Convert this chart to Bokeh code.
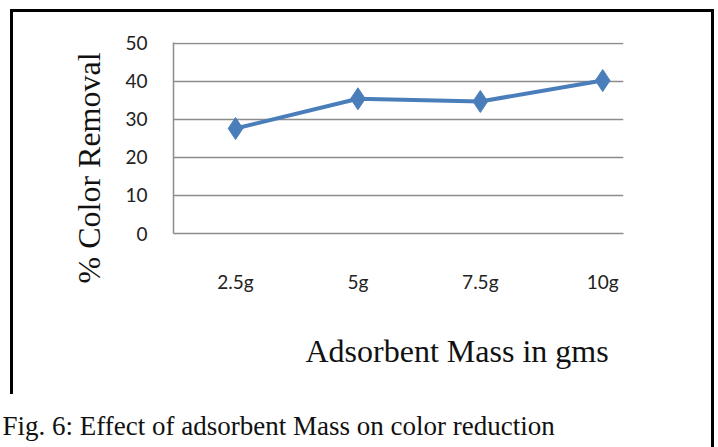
from bokeh.plotting import figure
from bokeh.models import Title, FixedTicker, Range1d, ColumnDataSource
from bokeh.embed import file_html
from bokeh.resources import INLINE

categories = ["2.5g", "5g", "7.5g", "10g"]
removal = [27.6, 35.4, 34.7, 40.2]
y_ticks = [0, 10, 20, 30, 40, 50]
x_title = "Adsorbent Mass in gms"
y_title = "% Color Removal"
caption = "Fig. 6: Effect of adsorbent Mass on color reduction"

W, H = 718, 447
bg = ("linear-gradient(#000,#000) 11px 9px / 703px 3px no-repeat, "
      "linear-gradient(#000,#000) 10px 9px / 3px 385px no-repeat, "
      "linear-gradient(#000,#000) 711px 9px / 3px 438px no-repeat, #fff")
p = figure(width=W, height=H, output_backend="svg", toolbar_location=None,
           x_range=Range1d(-0.507, 3.17), y_range=Range1d(0, 50.2),
           min_border_left=173, min_border_right=95, min_border_top=42,
           min_border_bottom=214, styles={"background": bg})
p.outline_line_color = None
p.background_fill_color = "white"
p.border_fill_alpha = 0

xs = list(range(len(categories)))
src = ColumnDataSource(dict(x=xs, y=removal))
p.line("x", "y", source=src, line_color="#4A7EBB", line_width=4)
p.scatter("x", "y", source=src, marker="diamond", size=22, fill_color="#4A7EBB",
          line_color="#4A7EBB")

p.xgrid.visible = False
p.ygrid.grid_line_color = "#8C8C8C"
p.ygrid.grid_line_width = 1.5
p.ygrid.ticker = FixedTicker(ticks=y_ticks)

p.yaxis.ticker = FixedTicker(ticks=y_ticks)
p.yaxis.axis_line_color = "#8C8C8C"
p.yaxis.axis_line_width = 1.5
p.yaxis.major_tick_line_color = None
p.yaxis.minor_tick_line_color = None
p.yaxis.major_label_standoff = 20
p.yaxis.major_label_text_font = "Lato"
p.yaxis.major_label_text_font_size = "19px"
p.yaxis.major_label_text_color = "#222222"

p.xaxis.ticker = FixedTicker(ticks=xs)
p.xaxis.major_label_overrides = {i: c for i, c in enumerate(categories)}
p.xaxis.axis_line_color = "#8C8C8C"
p.xaxis.axis_line_width = 1.5
p.xaxis.major_tick_line_color = None
p.xaxis.minor_tick_line_color = None
p.xaxis.major_label_standoff = 30
p.xaxis.major_label_text_font = "Lato"
p.xaxis.major_label_text_font_size = "19px"
p.xaxis.major_label_text_color = "#222222"

serif = "Liberation Serif"
p.add_layout(Title(text=y_title, align="left", offset=-50, standoff=32,
                   text_font=serif, text_font_size="32px", text_font_style="normal",
                   text_color="#111111"), "left")
p.add_layout(Title(text=x_title, align="left", offset=132, standoff=71,
                   text_font=serif, text_font_size="32px", text_font_style="normal",
                   text_color="#111111"), "below")
p.add_layout(Title(text=caption, align="left", offset=-171, standoff=8,
                   text_font=serif, text_font_size="27px", text_font_style="normal",
                   text_color="#111111"), "below")

open("out.html", "w").write(file_html(p, INLINE))
